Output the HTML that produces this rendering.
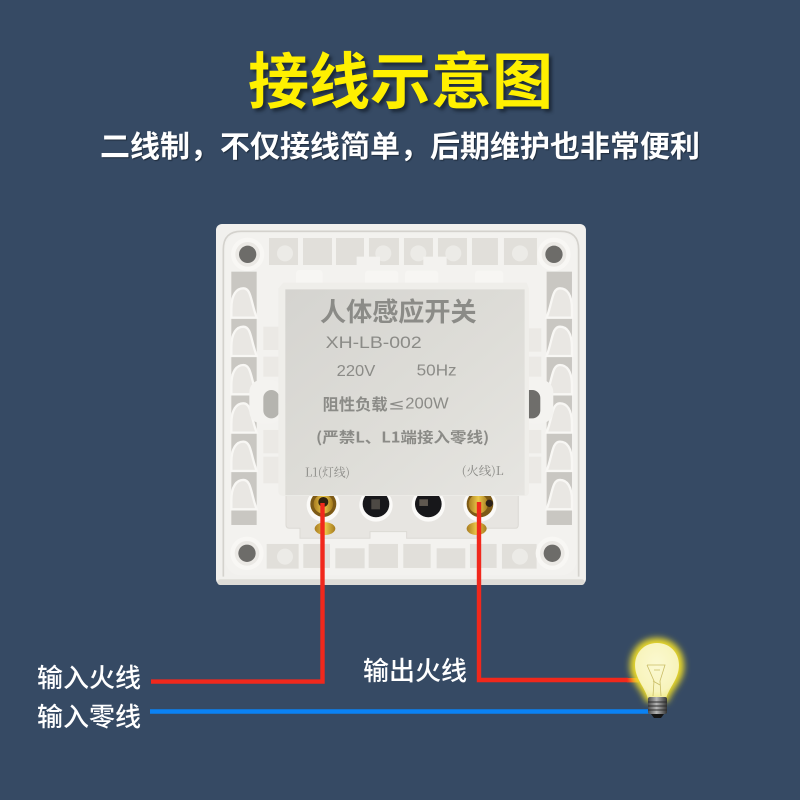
<!DOCTYPE html>
<html lang="zh"><head><meta charset="utf-8"><title>接线示意图</title>
<style>
html,body{margin:0;padding:0;background:#364a64}
#p{position:relative;width:800px;height:800px;overflow:hidden;background:#364a64;font-family:"Liberation Sans","Noto Sans CJK SC",sans-serif}
.t{position:absolute;white-space:nowrap;font-family:"Noto Sans CJK SC","WenQuanYi Zen Hei",sans-serif;line-height:1}
svg{position:absolute;left:0;top:0}
</style></head><body><div id="p">
<svg width="800" height="800" viewBox="0 0 800 800">
<defs>
<filter id="b1" x="-40%" y="-40%" width="180%" height="180%"><feGaussianBlur stdDeviation="3.2"/></filter>
<filter id="soft" x="-2%" y="-2%" width="104%" height="104%"><feGaussianBlur stdDeviation="1.6"/></filter>
<linearGradient id="mod" x1="0" y1="0" x2="1" y2="1"><stop offset="0" stop-color="#d5d4d0"/><stop offset=".55" stop-color="#dedDd8"/><stop offset="1" stop-color="#e6e5e1"/></linearGradient>
<radialGradient id="bulb" cx=".5" cy=".4" r=".65"><stop offset="0" stop-color="#fbf9d2"/><stop offset=".72" stop-color="#f8f4bc"/><stop offset="1" stop-color="#eee77f"/></radialGradient>
<linearGradient id="brass" x1="0" y1="0" x2="1" y2="0"><stop offset="0" stop-color="#a87c20"/><stop offset=".5" stop-color="#ecc94a"/><stop offset="1" stop-color="#a47a1e"/></linearGradient>
<linearGradient id="scr" x1="0" y1="0" x2="1" y2="0"><stop offset="0" stop-color="#4a4a4a"/><stop offset=".45" stop-color="#b5b5b5"/><stop offset="1" stop-color="#333"/></linearGradient>
<linearGradient id="wf" x1="0" y1="0" x2="1" y2="0"><stop offset="0" stop-color="#f1281c"/><stop offset="1" stop-color="#f5a020"/></linearGradient>
<path id="pet" d="M0,62 C0,18 16,0 36,0 C60,0 58,40 76,88 L0,88 Z"/>
<g id="hole"><circle r="50" fill="#f8f7f4"/><circle r="37" fill="#ebe9e5"/><circle r="26" fill="#6d6c69"/></g>
<g id="col">
<rect x="0" y="0" width="76" height="760" fill="#c9c7c2"/>
<g fill="#e9e7e3" stroke="#f8f7f4" stroke-width="7">
<use href="#pet" y="50"/><use href="#pet" y="165"/><use href="#pet" y="280"/><use href="#pet" y="395"/><use href="#pet" y="510"/><use href="#pet" y="625"/>
</g>
</g>
</defs>
<g transform="translate(210 220) scale(.3333)">
<rect x="18" y="12" width="1110" height="1083" rx="18" fill="#f1f0ed"/>
<rect x="22" y="1078" width="1102" height="17" rx="8" fill="#dedcd7"/>
<path d="M40 1070V88Q40 34 94 34H1052Q1106 34 1106 88V1070" fill="none" stroke="#d4d2cd" stroke-width="5"/>
<rect x="46" y="40" width="1054" height="1026" rx="46" fill="#f3f2ef"/>
<g fill="#e1dfda">
<rect x="177" y="54" width="87" height="81"/><rect x="279" y="54" width="87" height="81"/><rect x="378" y="54" width="84" height="81"/><rect x="477" y="54" width="90" height="81"/><rect x="582" y="54" width="87" height="81"/><rect x="684" y="54" width="87" height="81"/><rect x="786" y="54" width="78" height="81"/><rect x="882" y="54" width="99" height="81"/>
<rect x="170" y="972" width="96" height="74"/><rect x="280" y="972" width="80" height="72"/><rect x="376" y="985" width="88" height="60"/><rect x="476" y="972" width="88" height="72"/><rect x="580" y="972" width="82" height="72"/><rect x="680" y="985" width="86" height="60"/><rect x="780" y="972" width="80" height="72"/><rect x="876" y="972" width="104" height="74"/>
</g>
<g fill="#ecebe7"><circle cx="225" cy="100" r="24"/><circle cx="520" cy="100" r="24"/><circle cx="625" cy="100" r="24"/><circle cx="730" cy="100" r="24"/><circle cx="930" cy="100" r="24"/><circle cx="225" cy="1010" r="24"/><circle cx="930" cy="1010" r="24"/></g>
<g fill="#f3f2ef"><rect x="440" y="110" width="70" height="30"/><rect x="640" y="110" width="70" height="30"/></g>
<g fill="#f7f6f3"><rect x="258" y="150" width="80" height="50" rx="10"/><rect x="465" y="152" width="100" height="50" rx="10"/><rect x="585" y="152" width="100" height="50" rx="10"/><rect x="795" y="152" width="85" height="50" rx="10"/></g>
<!-- side columns -->
<use href="#col" x="64" y="155"/>
<use href="#col" transform="translate(1086 155) scale(-1 1)"/>
<!-- mounting side bosses -->
<rect x="118" y="480" width="100" height="130" rx="36" fill="#f4f3f0"/>
<rect x="160" y="510" width="48" height="85" rx="24" fill="#b5b4af"/>
<rect x="930" y="480" width="100" height="130" rx="36" fill="#f4f3f0"/>
<rect x="935" y="510" width="56" height="85" rx="24" fill="#6f6e6b"/>
<g fill="#ebe9e5"><rect x="160" y="320" width="46" height="70"/><rect x="160" y="410" width="46" height="60"/><rect x="160" y="630" width="46" height="70"/><rect x="160" y="710" width="46" height="80"/>
<rect x="948" y="325" width="46" height="70"/><rect x="948" y="410" width="46" height="60"/><rect x="948" y="630" width="46" height="70"/><rect x="948" y="710" width="46" height="80"/></g>
<!-- screw holes -->
<use href="#hole" x="113" y="103"/><use href="#hole" x="1032" y="103"/><use href="#hole" x="111" y="1000"/><use href="#hole" x="1027" y="1000"/>
<!-- terminal block -->
<path d="M228 815H925V915Q925 925 915 925H800V955H590V935H480V955H270V925H240Q228 925 228 915Z" fill="#e7e5e1" stroke="#dcdad5" stroke-width="3"/>
<circle cx="340" cy="855" r="50" fill="#fbfaf8"/><circle cx="340" cy="852" r="39" fill="#7d5a16"/><circle cx="340" cy="852" r="29" fill="url(#brass)"/><circle cx="340" cy="846" r="15" fill="#2f2210"/>
<circle cx="498" cy="855" r="50" fill="#fbfaf8"/><circle cx="498" cy="852" r="40" fill="#17171a"/><rect x="484" y="838" width="26" height="30" fill="#4d4944"/>
<circle cx="655" cy="855" r="50" fill="#fbfaf8"/><circle cx="655" cy="852" r="40" fill="#17171a"/><rect x="628" y="838" width="26" height="20" fill="#5f5850"/>
<circle cx="810" cy="855" r="50" fill="#fbfaf8"/><circle cx="810" cy="852" r="40" fill="#7d5a16"/><circle cx="805" cy="852" r="29" fill="url(#brass)"/><circle cx="838" cy="850" r="11" fill="#2b2118"/>
<ellipse cx="345" cy="926" rx="31" ry="19" fill="url(#brass)"/>
<ellipse cx="800" cy="926" rx="30" ry="19" fill="url(#brass)"/>
<!-- module -->
<path d="M205 205L220 188H950L957 205V815Q957 828 945 828H222Q205 828 205 815Z" fill="#efeeea"/>
<path d="M226 208H944V826H226Z" fill="url(#mod)"/>
<g fill="#8b8b87" font-family="'Noto Sans CJK SC',sans-serif">
<text x="330" y="303" font-size="78" textLength="470" lengthAdjust="spacingAndGlyphs" font-weight="700">人体感应开关</text>
<text x="347" y="384" font-size="49" textLength="288" lengthAdjust="spacingAndGlyphs" font-family="'Liberation Sans',sans-serif">XH-LB-002</text>
<text x="380" y="468" font-size="48" textLength="116" lengthAdjust="spacingAndGlyphs" font-family="'Liberation Sans',sans-serif">220V</text>
<text x="620" y="466" font-size="48" textLength="120" lengthAdjust="spacingAndGlyphs" font-family="'Liberation Sans',sans-serif">50Hz</text>
<text x="338" y="570" font-size="48" textLength="195" lengthAdjust="spacingAndGlyphs" font-weight="700">阻性负载</text>
<text x="535" y="568" font-size="46" font-family="'DejaVu Sans',sans-serif" textLength="50" lengthAdjust="spacingAndGlyphs">≤</text>
<text x="586" y="566" font-size="48" textLength="130" lengthAdjust="spacingAndGlyphs" font-family="'Liberation Sans',sans-serif">200W</text>
<text x="318" y="668" font-size="44" textLength="520" lengthAdjust="spacingAndGlyphs" font-weight="700">(严禁L、L1端接入零线)</text>
<text x="285" y="769" font-size="36" textLength="135" lengthAdjust="spacingAndGlyphs" font-family="'Noto Serif CJK SC',serif">L1(灯线)</text>
<text x="755" y="765" font-size="36" textLength="126" lengthAdjust="spacingAndGlyphs" font-family="'Noto Serif CJK SC',serif">(火线)L</text>
</g>
</g>
<!-- wires -->
<g fill="none" stroke-width="4.4" stroke-linejoin="miter">
<path d="M151 681.6H322.5V503" stroke="#f1281c"/>
<path d="M479 502V680H628" stroke="#f1281c"/>
<path d="M150 711.5H650" stroke="#0a82f4"/>
</g>
<rect x="627" y="678" width="12" height="4.4" fill="url(#wf)"/>
<!-- bulb -->
<path d="M657 638C640 638 630 651 630 666C630 682 642 689 646 702H668C672 689 684 682 684 666C684 651 674 638 657 638Z" fill="#ead92a" filter="url(#b1)"/>
<path d="M657 643C644 643 635 653 635 665C635 679 645 687 648 699H666C669 687 679 679 679 665C679 653 670 643 657 643Z" fill="url(#bulb)"/>
<g fill="none" stroke="#c9bd66" stroke-width=".8"><path d="M647 665H665L660 681L661 696M647 665L654 681L653 696"/><path d="M654 670L660 670M653 681L660 685"/></g>
<rect x="648" y="697" width="19" height="17" rx="2" fill="url(#scr)"/>
<g stroke="#2c2c2c" stroke-width="1"><path d="M648 702H667M648 706H667M648 710H667"/></g>
<path d="M651 714H664L661 718H654Z" fill="#141414"/>
</svg>
<div class="t" style="left:248px;top:46px;font-size:61px;font-weight:700;color:#fff000;text-shadow:3px 3px 3px #1d2a3a">接线示意图</div>
<div class="t" style="left:100px;top:129px;font-size:30px;font-weight:700;color:#fff;text-shadow:1px 1px 1px #1f2c3c">二线制，不仅接线简单，后期维护也非常便利</div>
<div class="t" style="left:37px;top:664px;font-size:26px;font-weight:500;color:#fff">输入火线</div>
<div class="t" style="left:37px;top:703px;font-size:26px;font-weight:500;color:#fff">输入零线</div>
<div class="t" style="left:363px;top:657px;font-size:26px;font-weight:500;color:#fff">输出火线</div>
</div></body></html>
